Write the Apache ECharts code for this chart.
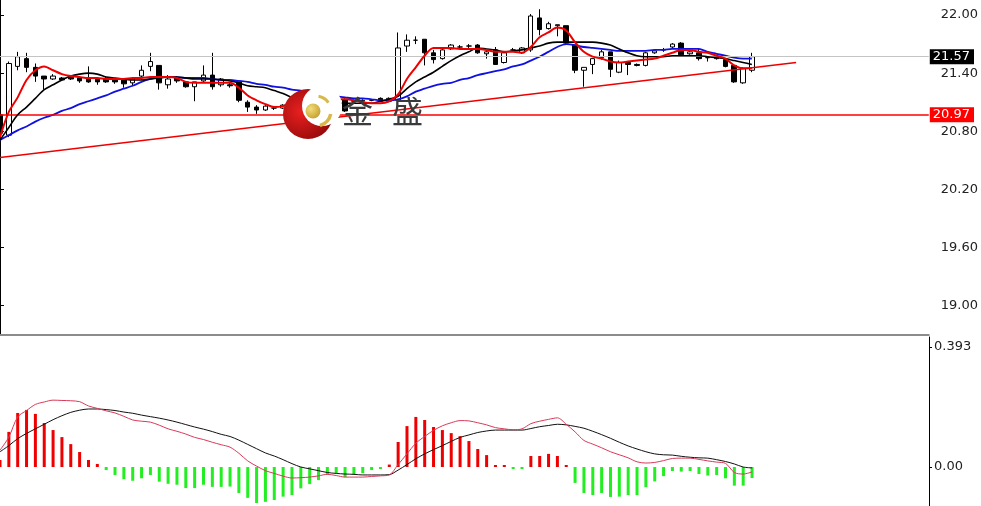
<!DOCTYPE html>
<html>
<head>
<meta charset="utf-8">
<script src="https://cdn.jsdelivr.net/npm/echarts@6/dist/echarts.min.js"></script>
<style>html,body{margin:0;padding:0;background:#fff;}#c{width:981px;height:506px;}</style>
</head>
<body>
<div id="c"></div>
<script>
// ---- data ----
const slotCount = 106;
const categories = Array.from({length: slotCount}, (_, i) => String(i + 1));
// [open, close, low, high]
const candles = [
[20.97,20.78,20.74,21.00],[20.76,21.50,20.74,21.52],[21.47,21.57,21.43,21.62],[21.55,21.46,21.41,21.61],
[21.46,21.37,21.31,21.50],[21.37,21.34,21.23,21.37],[21.34,21.37,21.33,21.39],[21.35,21.33,21.33,21.36],
[21.36,21.34,21.33,21.37],[21.35,21.32,21.30,21.36],[21.35,21.31,21.30,21.47],[21.34,21.31,21.28,21.35],
[21.34,21.31,21.30,21.36],[21.34,21.31,21.29,21.35],[21.33,21.29,21.25,21.34],[21.30,21.34,21.27,21.35],
[21.37,21.43,21.33,21.48],[21.47,21.52,21.42,21.61],[21.48,21.30,21.23,21.48],[21.28,21.34,21.24,21.38],
[21.35,21.32,21.30,21.37],[21.31,21.26,21.25,21.31],[21.26,21.31,21.11,21.31],[21.32,21.38,21.31,21.48],
[21.38,21.26,21.23,21.61],[21.28,21.34,21.26,21.35],[21.28,21.27,21.25,21.30],[21.31,21.12,21.10,21.31],
[21.10,21.05,21.00,21.12],[21.05,21.02,20.98,21.07],[21.02,21.06,21.01,21.07],[21.04,21.04,21.02,21.06],
[21.04,21.07,21.03,21.08],[21.10,21.12,21.08,21.13],[21.11,21.12,21.10,21.13],[21.11,21.13,21.10,21.14],
[21.10,21.15,21.09,21.20],[21.13,21.12,21.11,21.14],[21.11,21.13,21.10,21.14],[21.13,21.01,21.00,21.14],
[21.12,21.11,21.10,21.13],[21.11,21.12,21.10,21.13],[21.12,21.12,21.11,21.13],[21.14,21.11,21.10,21.15],
[21.11,21.14,21.10,21.15],[21.12,21.66,21.11,21.82],[21.68,21.74,21.62,21.80],[21.74,21.74,21.70,21.78],
[21.75,21.61,21.48,21.75],[21.61,21.54,21.50,21.64],[21.55,21.64,21.54,21.66],[21.65,21.69,21.64,21.70],
[21.67,21.67,21.66,21.69],[21.68,21.68,21.66,21.70],[21.69,21.61,21.60,21.70],[21.60,21.62,21.55,21.64],
[21.64,21.49,21.49,21.67],[21.51,21.61,21.50,21.62],[21.64,21.64,21.63,21.66],[21.61,21.66,21.60,21.67],
[21.64,21.99,21.62,22.01],[21.97,21.85,21.79,22.06],[21.86,21.91,21.85,21.93],[21.89,21.90,21.78,21.90],
[21.89,21.71,21.69,21.89],[21.69,21.43,21.40,21.69],[21.43,21.46,21.26,21.46],[21.49,21.55,21.39,21.55],
[21.56,21.62,21.54,21.64],[21.62,21.44,21.36,21.62],[21.41,21.51,21.40,21.53],[21.51,21.49,21.38,21.51],
[21.49,21.48,21.47,21.50],[21.48,21.61,21.47,21.62],[21.61,21.63,21.60,21.63],[21.64,21.64,21.62,21.66],
[21.67,21.70,21.66,21.71],[21.71,21.59,21.59,21.72],[21.60,21.62,21.59,21.63],[21.61,21.55,21.53,21.65],
[21.56,21.56,21.52,21.57],[21.55,21.57,21.54,21.58],[21.54,21.47,21.46,21.55],[21.48,21.31,21.30,21.49],
[21.30,21.45,21.29,21.46],[21.43,21.57,21.41,21.61]
];
const maFast = [20.74,21.00,21.15,21.33,21.43,21.47,21.43,21.39,21.37,21.36,21.35,21.35,21.34,21.34,21.34,21.35,21.35,21.36,21.36,21.36,
21.35,21.31,21.30,21.30,21.30,21.30,21.30,21.25,21.17,21.12,21.08,21.05,21.06,21.09,21.11,21.12,21.12,21.12,21.13,21.13,
21.12,21.10,21.09,21.09,21.11,21.18,21.34,21.46,21.58,21.66,21.66,21.66,21.65,21.65,21.65,21.64,21.62,21.62,21.62,21.61,
21.67,21.77,21.82,21.87,21.84,21.72,21.62,21.57,21.55,21.52,21.51,21.52,21.53,21.54,21.55,21.58,21.61,21.64,21.64,21.62,
21.61,21.58,21.55,21.48,21.45,21.45];
const maMid = [20.71,20.84,20.97,21.05,21.14,21.23,21.28,21.33,21.37,21.39,21.40,21.39,21.36,21.35,21.34,21.33,21.33,21.34,21.35,21.36,
21.36,21.35,21.34,21.34,21.34,21.33,21.32,21.30,21.27,21.26,21.25,21.22,21.19,21.15,21.12,21.09,21.09,21.09,21.09,21.09,
21.09,21.09,21.09,21.11,21.13,21.16,21.24,21.31,21.36,21.41,21.47,21.53,21.58,21.62,21.66,21.65,21.64,21.62,21.63,21.64,
21.66,21.68,21.71,21.72,21.72,21.72,21.72,21.72,21.71,21.69,21.65,21.61,21.58,21.57,21.57,21.57,21.58,21.58,21.58,21.58,
21.57,21.56,21.55,21.53,21.51,21.49];
const maSlow = [20.71,20.76,20.81,20.85,20.90,20.94,20.97,21.01,21.04,21.08,21.11,21.14,21.17,21.21,21.24,21.27,21.31,21.34,21.36,21.36,
21.36,21.35,21.35,21.35,21.34,21.33,21.33,21.32,21.31,21.29,21.28,21.26,21.25,21.23,21.22,21.20,21.18,21.17,21.16,21.15,
21.14,21.14,21.13,21.12,21.12,21.13,21.16,21.21,21.24,21.27,21.29,21.30,21.33,21.35,21.38,21.40,21.42,21.44,21.47,21.49,
21.53,21.57,21.62,21.67,21.70,21.69,21.67,21.66,21.65,21.64,21.63,21.63,21.63,21.63,21.64,21.64,21.65,21.65,21.65,21.65,
21.62,21.60,21.58,21.56,21.55,21.55];
// trendline: [slot position, price]
const trendline = [[0, 20.53], [90, 21.51]];
const levels = [21.57, 20.97];
const priceTicks = [19.00, 19.60, 20.20, 20.80, 21.40, 22.00];
const macdTicks = [0, 0.393];
const macdHist = [0.023,0.115,0.177,0.187,0.174,0.144,0.121,0.098,0.075,0.049,0.023,0.010,-0.010,-0.026,-0.040,-0.045,-0.037,-0.026,-0.048,-0.055,
-0.058,-0.069,-0.069,-0.058,-0.065,-0.065,-0.064,-0.085,-0.101,-0.118,-0.114,-0.108,-0.097,-0.092,-0.070,-0.056,-0.043,-0.026,-0.021,-0.033,
-0.026,-0.020,-0.010,-0.005,0.008,0.082,0.134,0.164,0.154,0.131,0.121,0.111,0.101,0.085,0.059,0.039,0.005,0.003,-0.004,-0.005,
0.036,0.036,0.043,0.036,0.006,-0.052,-0.085,-0.092,-0.085,-0.098,-0.097,-0.092,-0.092,-0.066,-0.047,-0.030,-0.013,-0.015,-0.013,-0.023,
-0.028,-0.026,-0.037,-0.061,-0.061,-0.036];
const macdDif = [0.055,0.098,0.164,0.185,0.205,0.213,0.219,0.218,0.217,0.214,0.200,0.192,0.184,0.177,0.166,0.154,0.150,0.147,0.137,0.125,
0.117,0.108,0.097,0.090,0.081,0.073,0.065,0.045,0.020,0.003,-0.012,-0.021,-0.030,-0.036,-0.035,-0.033,-0.029,-0.024,-0.028,-0.033,
-0.033,-0.033,-0.031,-0.029,-0.026,0.008,0.043,0.078,0.100,0.120,0.135,0.145,0.152,0.151,0.145,0.138,0.129,0.125,0.122,0.125,
0.142,0.150,0.156,0.161,0.140,0.115,0.087,0.075,0.063,0.050,0.040,0.030,0.017,0.013,0.015,0.021,0.028,0.029,0.029,0.025,
0.020,0.016,0.012,-0.018,-0.023,-0.016];
const macdDea = [0.050,0.070,0.093,0.110,0.125,0.140,0.155,0.168,0.179,0.186,0.190,0.190,0.188,0.185,0.180,0.176,0.170,0.165,0.160,0.154,
0.147,0.139,0.131,0.124,0.116,0.107,0.100,0.088,0.074,0.060,0.046,0.036,0.024,0.011,0.000,-0.006,-0.012,-0.018,-0.021,-0.023,
-0.024,-0.026,-0.026,-0.026,-0.025,-0.010,0.008,0.027,0.043,0.057,0.070,0.084,0.097,0.105,0.113,0.118,0.121,0.121,0.121,0.121,
0.126,0.132,0.136,0.140,0.138,0.133,0.127,0.117,0.106,0.094,0.081,0.069,0.059,0.050,0.043,0.040,0.039,0.035,0.032,0.030,
0.029,0.024,0.018,0.010,0.000,-0.003];

// ---- chart ----
const chart = echarts.init(document.getElementById('c'), null, {renderer: 'canvas'});
const axisFont = {fontFamily: 'DejaVu Sans', fontSize: 13, color: '#222'};
const option = {
  animation: false,
  backgroundColor: '#ffffff',
  grid: [
    {left: 0, right: 52, top: 0, height: 335},
    {left: 0, right: 52, top: 337, bottom: 0}
  ],
  xAxis: [
    {type: 'category', gridIndex: 0, data: categories, boundaryGap: false,
     axisLine: {show: true, onZero: false, lineStyle: {color: '#8c8c8c', width: 2}},
     axisTick: {show: false}, axisLabel: {show: false}, splitLine: {show: false}},
    {type: 'value', gridIndex: 0, min: 0, max: slotCount - 1, show: false},
    {type: 'category', gridIndex: 1, data: categories, boundaryGap: false, show: false}
  ],
  yAxis: [
    {type: 'value', gridIndex: 0, position: 'right', min: 18.698, max: 22.155, scale: true,
     axisLine: {show: true, lineStyle: {color: '#000', width: 1}},
     axisTick: {show: true, length: 4, customValues: priceTicks, lineStyle: {color: '#000'}},
     axisLabel: Object.assign({customValues: priceTicks, margin: 12, formatter: v => Number(v).toFixed(2)}, axisFont),
     splitLine: {show: false}},
    {type: 'value', gridIndex: 1, position: 'right', min: -0.1277, max: 0.4258,
     axisLine: {show: true, lineStyle: {color: '#000', width: 1}},
     axisTick: {show: true, length: 3, customValues: macdTicks, lineStyle: {color: '#000'}},
     axisLabel: Object.assign({customValues: macdTicks, margin: 5,
       formatter: v => Number(v) === 0 ? '0.00' : Number(v).toFixed(3)}, axisFont),
     splitLine: {show: false}}
  ],
  graphic: [
    {type: 'circle', z: 50,
     shape: {cx: 308, cy: 114, r: 25},
     style: {fill: new echarts.graphic.RadialGradient(0.35, 0.45, 0.75, [
       {offset: 0, color: '#e82020'}, {offset: 1, color: '#8a0606'}])}},
    {type: 'circle', z: 51, shape: {cx: 322, cy: 106, r: 20}, style: {fill: '#ffffff'}},
    {type: 'circle', z: 52, shape: {cx: 313, cy: 111, r: 7.5},
     style: {fill: new echarts.graphic.RadialGradient(0.35, 0.35, 0.8, [
       {offset: 0, color: '#f2dc7a'}, {offset: 1, color: '#c09a28'}])}},
    {type: 'arc', z: 52, shape: {cx: 316, cy: 111, r: 15, startAngle: -1.4, endAngle: -0.6},
     style: {stroke: '#d8b848', lineWidth: 3, fill: null}},
    {type: 'arc', z: 52, shape: {cx: 316, cy: 111, r: 15, startAngle: 0.2, endAngle: 1.3},
     style: {stroke: '#d8b848', lineWidth: 3.5, fill: null}},
    {type: 'text', left: 342, top: 96, z: 53,
     style: {text: '金', font: '31px "Noto Sans CJK SC"', fill: '#3a3a3a'}},
    {type: 'text', left: 392, top: 96, z: 53,
     style: {text: '盛', font: '31px "Noto Sans CJK SC"', fill: '#3a3a3a'}}
  ],
  series: [
    {type: 'candlestick', name: 'K', xAxisIndex: 0, yAxisIndex: 0, data: candles,
     barWidth: 5, clip: false, z: 3,
     itemStyle: {color: '#ffffff', color0: '#000000', borderColor: '#000000', borderColor0: '#000000', borderWidth: 1},
     markLine: {
       silent: true, symbol: ['none', 'none'], animation: false,
       label: {show: true, position: 'end', distance: 1, color: '#fff', fontFamily: 'DejaVu Sans', fontSize: 13,
               padding: [1, 4, 1, 3], formatter: p => Number(p.value).toFixed(2)},
       data: [
         {yAxis: levels[0], lineStyle: {color: '#c4c4c4', width: 1, type: 'solid'}, label: {backgroundColor: '#000'}},
         {yAxis: levels[1], lineStyle: {color: '#ff0000', width: 1.5, type: 'solid'}, label: {backgroundColor: '#ff0000'}}
       ]
     }},
    {type: 'line', name: 'MA slow', xAxisIndex: 0, yAxisIndex: 0, data: maSlow, smooth: 0.3, symbol: 'none', z: 4,
     lineStyle: {color: '#1010e0', width: 1.8}},
    {type: 'line', name: 'MA mid', xAxisIndex: 0, yAxisIndex: 0, data: maMid, smooth: 0.3, symbol: 'none', z: 5,
     lineStyle: {color: '#000000', width: 1.6}},
    {type: 'line', name: 'MA fast', xAxisIndex: 0, yAxisIndex: 0, data: maFast, smooth: 0.3, symbol: 'none', z: 6,
     lineStyle: {color: '#ee0000', width: 2}},
    {type: 'line', name: 'trend', xAxisIndex: 1, yAxisIndex: 0, data: trendline, symbol: 'none', z: 6,
     lineStyle: {color: '#ee0000', width: 1.6}},
    {type: 'bar', name: 'MACD', xAxisIndex: 2, yAxisIndex: 1, data: macdHist, barWidth: 3, barMinHeight: 2,
     itemStyle: {color: p => p.value >= 0 ? '#ee0000' : '#22ee22'}},
    {type: 'line', name: 'DEA', xAxisIndex: 2, yAxisIndex: 1, data: macdDea, smooth: 0.3, symbol: 'none',
     lineStyle: {color: '#111111', width: 1}},
    {type: 'line', name: 'DIF', xAxisIndex: 2, yAxisIndex: 1, data: macdDif, smooth: 0.3, symbol: 'none',
     lineStyle: {color: '#d83a58', width: 1}}
  ]
};
chart.setOption(option);
</script>
</body>
</html>
